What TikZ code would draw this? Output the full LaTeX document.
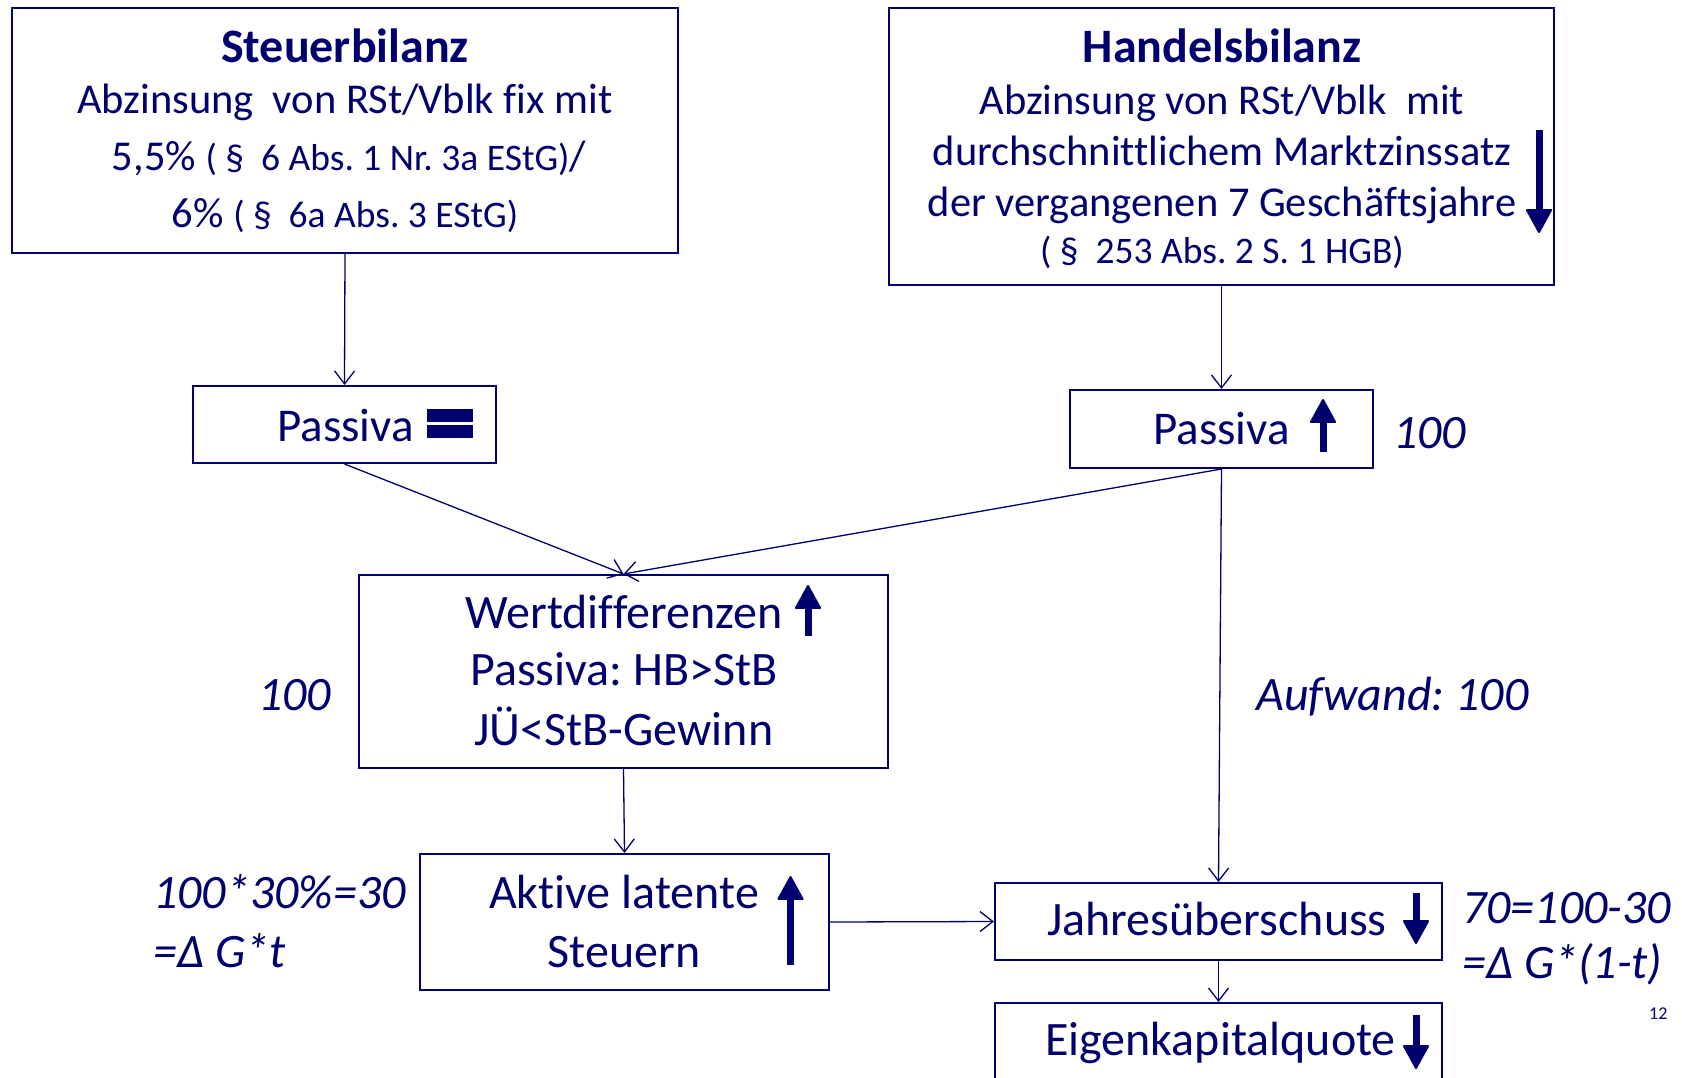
\documentclass[tikz,border=0pt]{standalone}
\usepackage{fontspec}
\setmainfont{Carlito}[Ligatures={NoCommon}]
\usetikzlibrary{arrows.meta}
\definecolor{navy}{RGB}{0,0,110}
\newcommand\fsz[1]{\fontsize{#1pt}{#1pt}\selectfont}
\frenchspacing
\tikzset{
  box/.style={draw=navy, line width=2pt, inner sep=0pt, rectangle},
  txt/.style={inner sep=0pt, text=navy, font=\fsz{48}},
  itxt/.style={inner sep=0pt, text=navy, font=\fsz{48}\itshape},
  btxt/.style={inner sep=0pt, text=navy, font=\fsz{42.5}},
  conn/.style={draw=navy, line width=1.3pt, -{Straight Barb[length=13pt,width=20pt]}},
  fatarrow/.style={draw=navy, line width=7pt, -{Triangle[length=25pt,width=27pt,round,line width=2pt]}},
}
\begin{document}
\begin{tikzpicture}[x=1pt,y=-1pt]
\useasboundingbox (0,0) rectangle (1682,1077);
\clip (0,0) rectangle (1682,1077);
\fill[white] (0,0) rectangle (1682,1077);

% boxes
\node[box, minimum width=666pt, minimum height=245.5pt] (sb) at (345,130.25) {};
\node[box, minimum width=665pt, minimum height=277.5pt] (hb) at (1221.5,146.25) {};
\node[box, minimum width=303pt, minimum height=77pt] (pl) at (344.5,424.5) {};
\node[box, minimum width=303pt, minimum height=78pt] (pr) at (1221.5,429) {};
\node[box, minimum width=529pt, minimum height=193pt] (wd) at (623.5,671.5) {};
\node[box, minimum width=409pt, minimum height=136pt] (al) at (624.5,922) {};
\node[box, minimum width=447pt, minimum height=77pt] (js) at (1218.5,921.5) {};
\node[box, minimum width=447pt, minimum height=87pt] (ek) at (1218.5,1046.5) {};

% Steuerbilanz text
\node[btxt, anchor=base, font=\fsz{48}\bfseries] (sb1) at (345,62) {Steuerbilanz};
\node[btxt, anchor=base] (sb2) at (345,113) {Abzinsung\ \ von RSt/Vblk fix mit};
\node[btxt, anchor=base] (sb3) at (349,170) {5,5\% {\fsz{37.5}( §\ \ 6 Abs. 1 Nr. 3a EStG)}/};
\node[btxt, anchor=base] (sb4) at (345,227) {6\% {\fsz{37.5}( §\ \ 6a Abs. 3 EStG)}};

% Handelsbilanz text
\node[btxt, anchor=base, font=\fsz{48}\bfseries] (hb1) at (1222,62) {Handelsbilanz};
\node[btxt, anchor=base] (hb2) at (1222,114) {Abzinsung von RSt/Vblk\ \ mit};
\node[btxt, anchor=base] (hb3) at (1222,165) {durchschnittlichem Marktzinssatz};
\node[btxt, anchor=base] (hb4) at (1222,216) {der vergangenen 7 Geschäftsjahre};
\node[btxt, anchor=base, font=\fsz{37.5}] (hb5) at (1222,263) {( §\ \ 253 Abs. 2 S. 1 HGB)};
\draw[fatarrow] (1539,130) -- (1539,233);

% Passiva left
\node[txt, anchor=base west, font=\fsz{47}] (plt) at (277,441) {Passiva};
\fill[navy] (427,409) rectangle (473,422);
\fill[navy] (427,425) rectangle (473,438);

% Passiva right
\node[txt, anchor=base west, font=\fsz{47}] (prt) at (1153,444) {Passiva};
\draw[fatarrow] (1323,452) -- (1323,399);
\node[itxt, anchor=base west] (n100a) at (1393,448) {100};

% Wertdifferenzen
\node[txt, anchor=base] (wd1) at (624,628) {Wertdifferenzen};
\node[txt, anchor=base] (wd2) at (624,685) {Passiva: HB>StB};
\node[txt, anchor=base] (wd3) at (624,745) {JÜ<StB-Gewinn};
\draw[fatarrow] (808,636) -- (808,585);
\node[itxt, anchor=base west] (n100b) at (258,710) {100};
\node[itxt, anchor=base west] (aufw) at (1256,710) {Aufwand: 100};

% Aktive latente Steuern
\node[txt, anchor=base] (al1) at (624,908) {Aktive latente};
\node[txt, anchor=base] (al2) at (624,967) {Steuern};
\draw[fatarrow] (790.5,965) -- (790.5,876);
\node[itxt, anchor=base west] (f1) at (153,908) {100*30\%=30};
\node[itxt, anchor=base west] (f2) at (153,967) {=Δ G*t};

% Jahresueberschuss
\node[txt, anchor=base west] (jst) at (1047,935) {Jahresüberschuss};
\draw[fatarrow] (1416,893) -- (1416,944);
\node[itxt, anchor=base west] (f3) at (1462,923) {70=100-30};
\node[itxt, anchor=base west] (f4) at (1462,978) {=Δ G*(1-t)};
\node[txt, anchor=base west, font=\fsz{18}] (pg) at (1649,1019) {12};

% Eigenkapitalquote
\node[txt, anchor=base west] (ekt) at (1045,1055) {Eigenkapitalquote};
\draw[fatarrow] (1416,1015) -- (1416,1069);

% connectors
\draw[conn] (sb.south) -- (pl.north);
\draw[conn] (hb.south) -- (pr.north);
\draw[conn] (pl.south) -- (wd.north);
\draw[conn] (pr.south) -- (wd.north);
\draw[conn] (pr.south) -- (js.north);
\draw[conn] (wd.south) -- (al.north);
\draw[conn] (al.east) -- (js.west);
\draw[conn] (js.south) -- (ek.north);
\end{tikzpicture}
\end{document}
